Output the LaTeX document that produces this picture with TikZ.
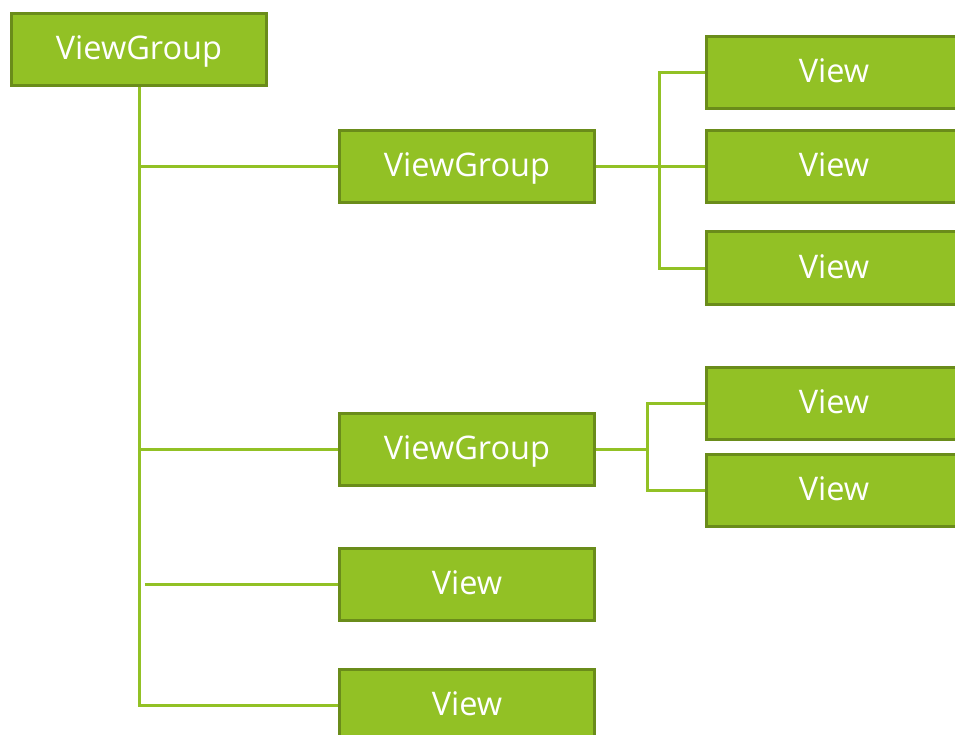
\documentclass[tikz,border=0pt]{standalone}
\usepackage{fontspec}
\setmainfont{Open Sans}
\usetikzlibrary{positioning}

\definecolor{droidfill}{RGB}{146,193,37}
\definecolor{droidedge}{RGB}{106,140,26}

\begin{document}
\begin{tikzpicture} [x = 1pt, y = -1pt, on grid,
    box/.style = {draw = droidedge, fill = droidfill, line width = 3pt,
        minimum width = 255pt, minimum height = 72pt, inner sep = 0pt,
        text = white, font = \fontsize{32.5}{38}\selectfont,
        text height = 25pt, text depth = 5pt},
    link/.style = {draw = droidfill, line width = 3pt}]

\useasboundingbox (0,0) rectangle (955,735);
\clip (0,0) rectangle (955,735);

\node (root) [box] at (139,49.5) {ViewGroup};
\node (vg1) [box, below right = 117.5pt and 328pt of root] {ViewGroup};
\node (vg2) [box, below = 282.5pt of vg1] {ViewGroup};
\node (v3) [box, below = 135pt of vg2] {View};
\node (v4) [box, below = 120.5pt of v3] {View};

\node (r2) [box, right = 367pt of vg1] {View};
\node (r1) [box, above = 94.5pt of r2] {View};
\node (r3) [box, below = 101pt of r2] {View};
\node (r4) [box, above right = 46.5pt and 367pt of vg2] {View};
\node (r5) [box, below = 87.5pt of r4] {View};

\coordinate (j1) at (659,167);
\coordinate (j2) at (647,449.5);
\coordinate (stub) at (145,584.5);

% trunk
\path [link] (root.south) |- (v4.west);
\path [link] (root.south |- vg1) -- (vg1.west);
\path [link] (root.south |- vg2) -- (vg2.west);
\path [link] (stub) -- (v3.west);

% first group
\path [link] (vg1.east) -- (vg1.east -| r2.west);
\path [link] (r1.west) -| (j1) |- (r3.west);

% second group
\path [link] (vg2.east) -- (j2);
\path [link] (r4.west) -| (j2) |- (r5.west);

\end{tikzpicture}
\end{document}
